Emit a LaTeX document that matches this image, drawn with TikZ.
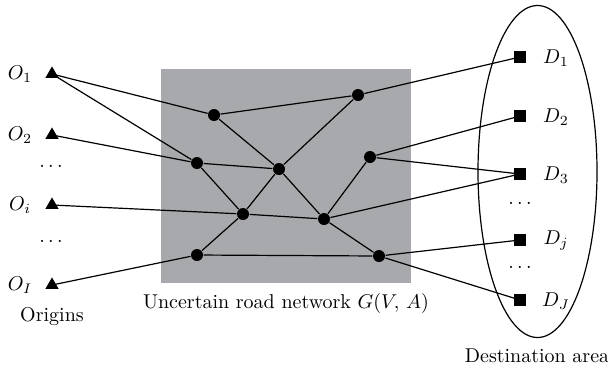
\documentclass[tikz,border=0pt]{standalone}
\usetikzlibrary{shapes.geometric}
\definecolor{netgray}{RGB}{167,169,172}

\tikzset{
	junction/.style={circle, fill=black, inner sep=0pt, minimum size=6pt},
	origin/.style={regular polygon, regular polygon sides=3, fill=black, inner sep=0pt, minimum size=7.6pt},
	dest/.style={rectangle, fill=black, inner sep=0pt, minimum size=6pt}
}

\begin{document}
\begin{tikzpicture}[x=0.5pt, y=-0.5pt, line width=0.6pt]
	\useasboundingbox (0, 0) rectangle (608, 366);

	\fill[netgray] (161, 69) rectangle (411, 283);
	\draw (537.5, 171.5) ellipse [x radius=59.5, y radius=166];

	\node[origin] (o1) at (52, 74) {};
	\node[origin] (o2) at (52, 135) {};
	\node[origin] (oi) at (52, 205) {};
	\node[origin] (oI) at (52, 285) {};

	\node[junction] (v1) at (214, 115) {};
	\node[junction] (v2) at (358, 95) {};
	\node[junction] (v3) at (197, 163) {};
	\node[junction] (v4) at (279, 169) {};
	\node[junction] (v5) at (370, 157) {};
	\node[junction] (v6) at (243, 214) {};
	\node[junction] (v7) at (324, 219) {};
	\node[junction] (v8) at (197, 255) {};
	\node[junction] (v9) at (379, 256) {};

	\node[dest] (d1) at (520, 57) {};
	\node[dest] (d2) at (520, 116) {};
	\node[dest] (d3) at (520, 174) {};
	\node[dest] (dj) at (520, 240) {};
	\node[dest] (dJ) at (520, 300) {};

	\draw (o1.center) -- (v1) -- (v2) -- (d1.center);
	\draw (o1.center) -- (v3) -- (v4) -- (v2);
	\draw (o2.center) -- (v3) -- (v6) -- (v7) -- (v9) -- (v8) -- (v6) -- (v4) -- (v7) -- (v5);
	\draw (v1) -- (v4);
	\draw (oi.center) -- (v6);
	\draw (oI.center) -- (v8);
	\draw (d2.center) -- (v5) -- (d3.center) -- (v7);
	\draw (dj.center) -- (v9) -- (dJ.center);

	\node (lo1) at (20, 74) {$O_1$};
	\node (lo2) at (20, 135) {$O_2$};
	\node (ldo1) at (51, 166) {$\dots$};
	\node (loi) at (20, 205) {$O_i$};
	\node (ldo2) at (51, 241) {$\dots$};
	\node (loI) at (20, 285) {$O_I$};
	\node (lorig) at (52, 316) {Origins};

	\node (ld1) at (556, 58) {$D_1$};
	\node (ld2) at (556, 117) {$D_2$};
	\node (ld3) at (556, 175) {$D_3$};
	\node (ldd1) at (520, 203) {$\dots$};
	\node (ldj) at (556, 241) {$D_j$};
	\node (ldd2) at (520, 267) {$\dots$};
	\node (ldJ) at (556, 301) {$D_J$};

	\node (lnet) at (286, 303) {Uncertain road network $G(V,\,A)$};
	\node (ldest) at (537, 356) {Destination area};
\end{tikzpicture}
\end{document}
